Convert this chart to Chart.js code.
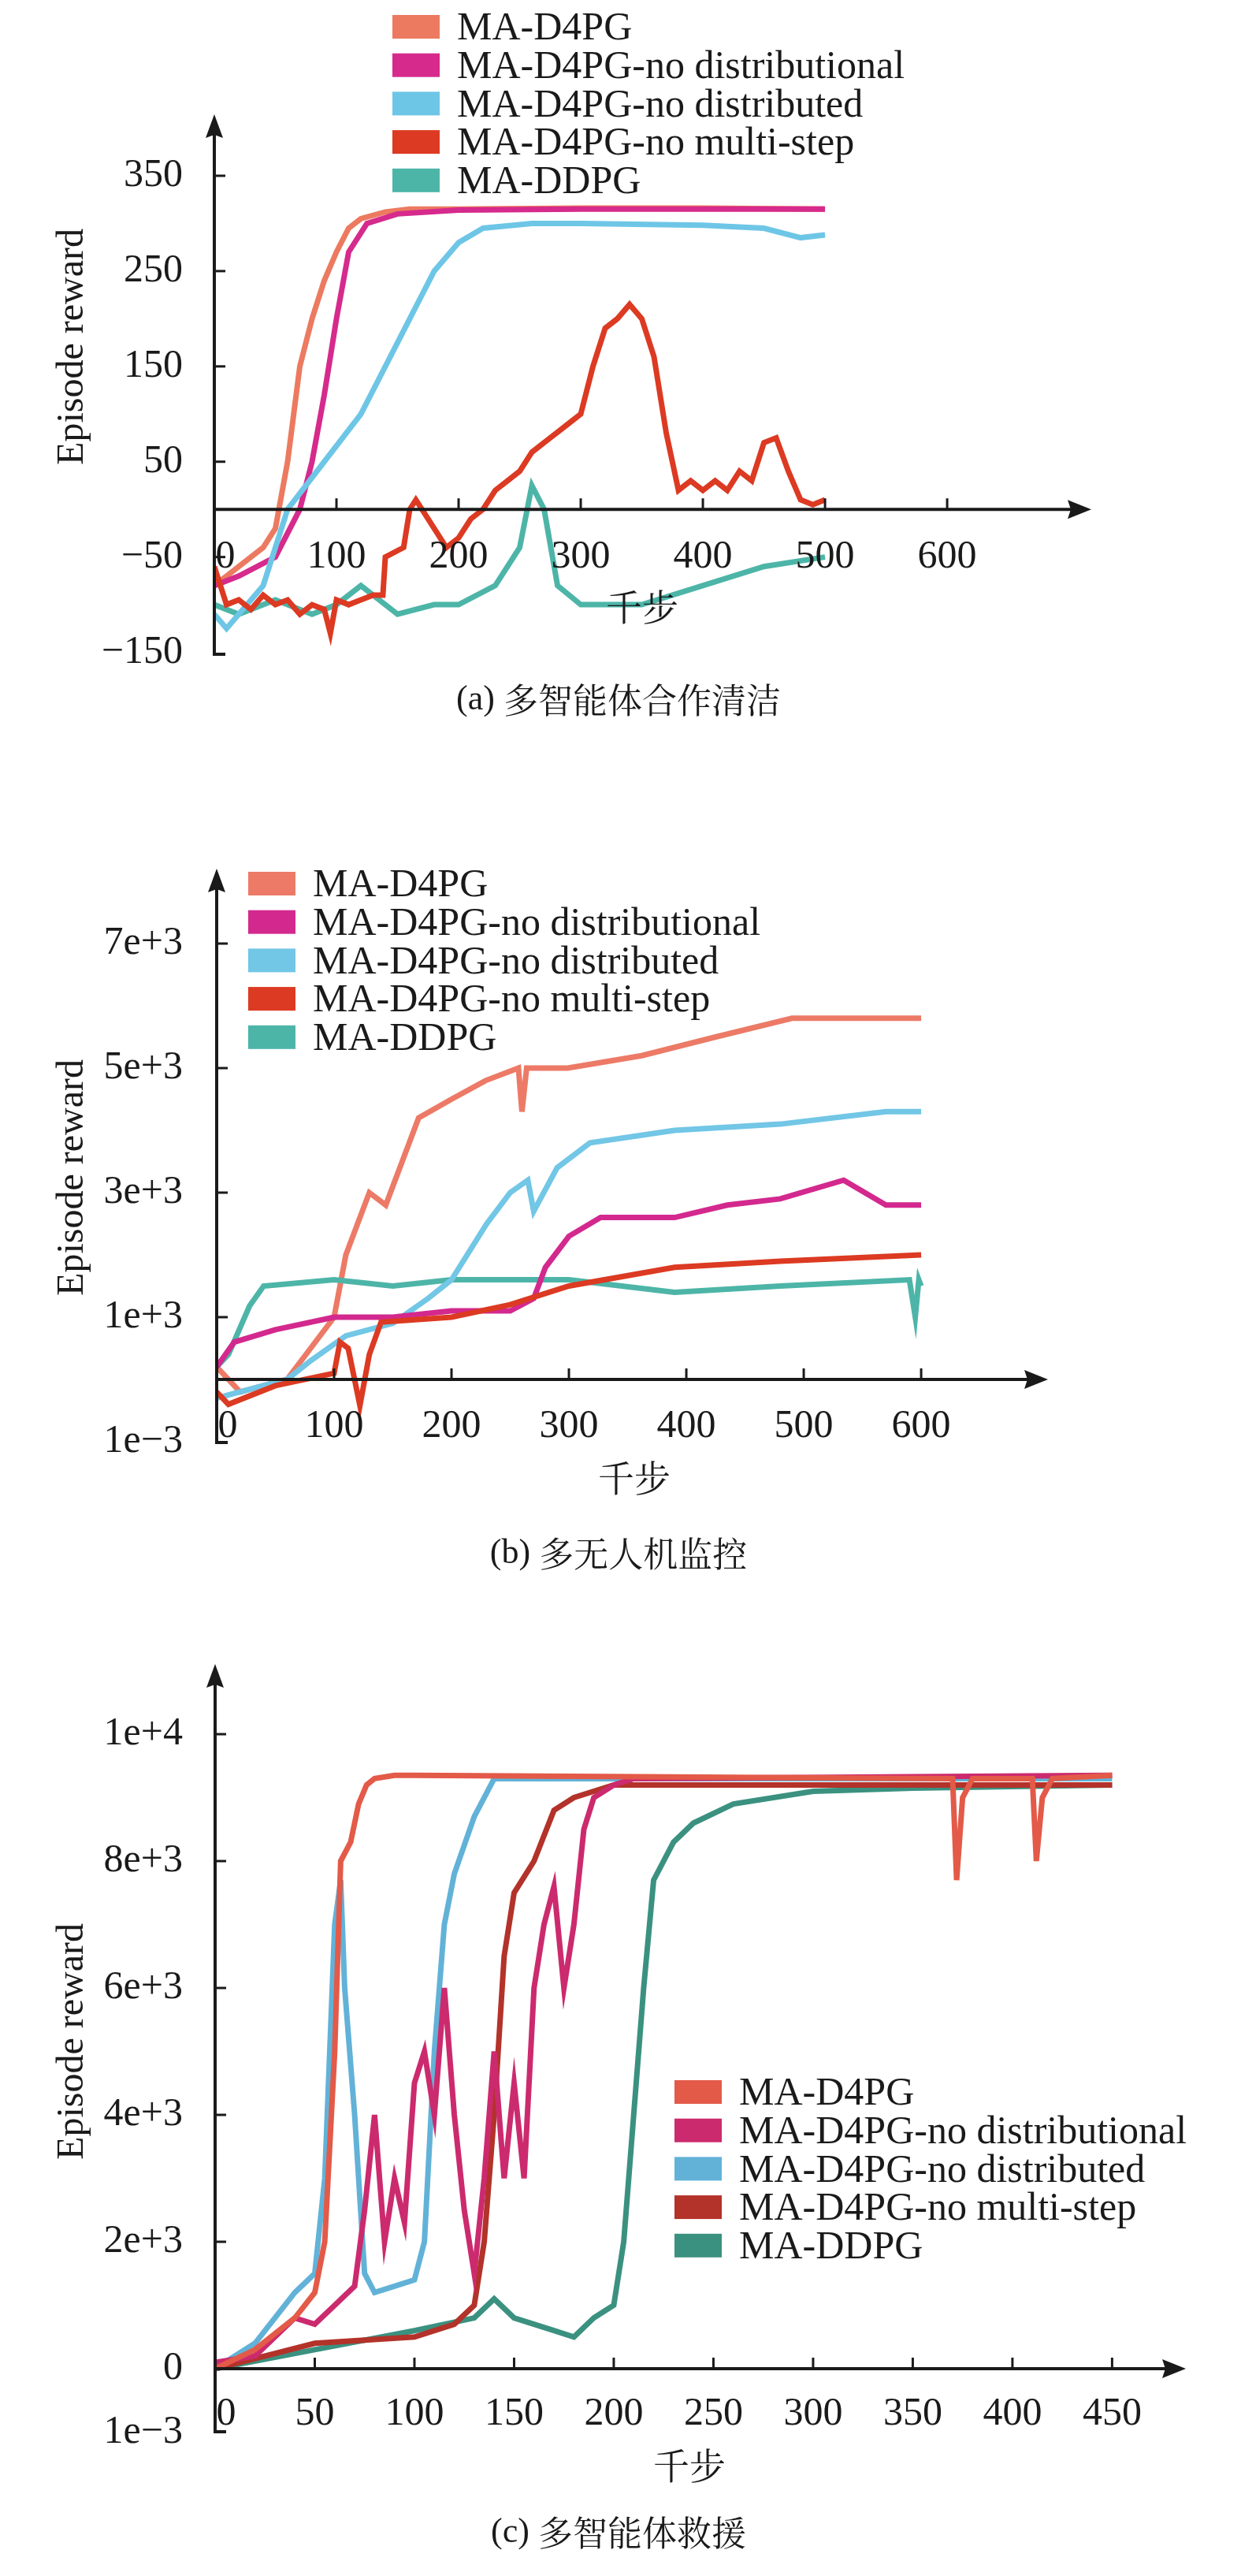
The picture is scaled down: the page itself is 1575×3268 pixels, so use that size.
<!DOCTYPE html>
<html>
<head>
<meta charset="utf-8">
<script src="https://cdn.jsdelivr.net/npm/chart.js@4/dist/chart.umd.min.js"></script>
<style>
  body { margin: 0; background: #fff; width: 1575px; height: 3268px; position: relative; overflow: hidden; }
  canvas { position: absolute; left: 0; }
</style>
</head>
<body>
<canvas id="chartA" width="1575" height="1000" style="top:0px"></canvas>
<canvas id="chartB" width="1575" height="1000" style="top:1000px"></canvas>
<canvas id="chartC" width="1575" height="1268" style="top:2000px"></canvas>
<script>
// series names and colours
const seriesNames = ['MA-D4PG', 'MA-D4PG-no distributional', 'MA-D4PG-no distributed', 'MA-D4PG-no multi-step', 'MA-DDPG'];
const colorsA = ['#ec7a60', '#d62a8c', '#6ec6e6', '#dc3a22', '#4db5a8'];
const colorsB = ['#ec7a66', '#d3298e', '#72c6e6', '#dc3a22', '#4db5a8'];
const colorsC = ['#e35a48', '#cc2a6e', '#62b2d8', '#b3322a', '#3b9180'];

// (a) cooperative cleaning
const aD4pgX = [0, 20, 40, 50, 60, 70, 80, 90, 100, 110, 120, 140, 160, 200, 300, 400, 500];
const aD4pgY = [-80, -60, -40, -20, 50, 150, 200, 240, 270, 295, 305, 312, 315, 315, 316, 316, 315];
const aNoDistribX = [0, 20, 50, 70, 80, 90, 100, 110, 125, 150, 200, 300, 400, 500];
const aNoDistribY = [-80, -70, -50, 0, 50, 120, 200, 270, 300, 310, 314, 315, 315, 315];
const aNoDistrX = [0, 10, 20, 40, 60, 90, 120, 140, 160, 180, 200, 220, 260, 300, 400, 450, 480, 500];
const aNoDistrY = [-110, -125, -110, -80, 0, 50, 100, 150, 200, 250, 280, 295, 300, 300, 298, 295, 285, 288];
const aNoMultiX = [0, 10, 20, 30, 40, 50, 60, 70, 80, 90, 95, 100, 110, 120, 130, 138, 140, 155, 160, 165, 170, 180, 190, 200, 210, 220, 230, 240, 250, 260, 270, 280, 290, 300, 310, 320, 330, 340, 350, 360, 370, 380, 390, 400, 410, 420, 430, 440, 450, 460, 470, 480, 490, 500];
const aNoMultiY = [-60, -100, -95, -105, -90, -100, -95, -110, -100, -105, -130, -95, -100, -95, -90, -90, -50, -40, 0, 10, 0, -20, -40, -30, -10, 0, 20, 30, 40, 60, 70, 80, 90, 100, 150, 190, 200, 215, 200, 160, 80, 20, 30, 20, 30, 20, 40, 30, 70, 75, 40, 10, 5, 10];
const aDdpgX = [0, 20, 50, 80, 100, 120, 130, 150, 180, 200, 230, 250, 260, 270, 281, 300, 350, 400, 450, 500];
const aDdpgY = [-100, -110, -95, -110, -100, -80, -90, -110, -100, -100, -80, -40, 25, 0, -80, -100, -100, -80, -60, -50];

// (b) multi-UAV surveillance
const bD4pgX = [0, 20, 60, 80, 100, 110, 130, 144, 158, 172, 200, 229, 257, 260, 264, 299, 362, 425, 490, 600];
const bD4pgY = [200, -200, 0, 500, 1000, 2000, 3000, 2800, 3500, 4200, 4500, 4800, 5000, 4300, 5000, 5000, 5200, 5500, 5800, 5800];
const bNoDistribX = [0, 15, 50, 100, 150, 200, 250, 270, 280, 300, 327, 390, 435, 480, 534, 570, 600];
const bNoDistribY = [200, 600, 800, 1000, 1000, 1100, 1100, 1300, 1800, 2300, 2600, 2600, 2800, 2900, 3200, 2800, 2800];
const bNoDistrX = [0, 60, 80, 110, 150, 180, 200, 230, 250, 265, 270, 290, 318, 390, 480, 570, 600];
const bNoDistrY = [-300, 0, 300, 700, 900, 1300, 1600, 2500, 3000, 3200, 2700, 3400, 3800, 4000, 4100, 4300, 4300];
const bNoMultiX = [0, 10, 50, 100, 105, 112, 122, 130, 140, 200, 250, 300, 390, 480, 600];
const bNoMultiY = [-200, -400, -100, 100, 600, 500, -420, 400, 920, 1000, 1200, 1500, 1800, 1900, 2000];
const bDdpgX = [0, 10, 28, 40, 100, 150, 200, 300, 390, 480, 590, 595, 598, 600];
const bDdpgY = [200, 400, 1180, 1500, 1600, 1500, 1600, 1600, 1400, 1500, 1600, 1000, 1600, 1500];

// (c) multi-agent rescue
const cD4pgX = [0, 20, 40, 50, 55, 60, 63, 68, 72, 76, 80, 90, 100, 370, 372, 375, 380, 410, 412, 415, 420, 450];
const cD4pgY = [0, 300, 800, 1200, 2000, 5000, 8000, 8300, 8900, 9200, 9300, 9350, 9350, 9300, 7700, 9000, 9300, 9300, 8000, 9000, 9300, 9350];
const cNoDistribX = [0, 20, 40, 50, 60, 70, 75, 80, 85, 90, 95, 100, 105, 110, 115, 120, 125, 130, 135, 140, 145, 150, 155, 160, 165, 170, 175, 180, 185, 190, 200, 210, 450];
const cNoDistribY = [100, 200, 800, 700, 1000, 1300, 2500, 4000, 2000, 3000, 2300, 4500, 5000, 4000, 6000, 4000, 2500, 1500, 3000, 5000, 3000, 4500, 3000, 6000, 7000, 7600, 6000, 7000, 8500, 9000, 9200, 9300, 9350];
const cNoDistrX = [0, 20, 40, 50, 55, 60, 63, 65, 70, 75, 80, 90, 100, 105, 110, 115, 120, 130, 140, 450];
const cNoDistrY = [0, 400, 1200, 1500, 3000, 7000, 7700, 6000, 4000, 1500, 1200, 1300, 1400, 2000, 5000, 7000, 7800, 8700, 9300, 9300];
const cNoMultiX = [0, 50, 100, 120, 130, 135, 140, 145, 150, 160, 170, 180, 200, 450];
const cNoMultiY = [0, 400, 500, 700, 1000, 2000, 4000, 6500, 7500, 8000, 8800, 9000, 9200, 9200];
const cDdpgX = [0, 50, 100, 130, 140, 150, 170, 180, 190, 200, 205, 210, 215, 220, 230, 240, 260, 300, 350, 450];
const cDdpgY = [0, 300, 600, 800, 1100, 800, 600, 500, 800, 1000, 2000, 4000, 6000, 7700, 8300, 8600, 8900, 9100, 9150, 9200];

// tick labels
const aYTickVals = [350, 250, 150, 50, -50, -150];
const aYTickLabels = ['350', '250', '150', '50', '\u221250', '\u2212150'];
const aXTicks = [0, 100, 200, 300, 400, 500, 600];
const bYTickVals = [7000, 5000, 3000, 1000, -1000];
const bYTickLabels = ['7e+3', '5e+3', '3e+3', '1e+3', '1e\u22123'];
const bXTicks = [0, 100, 200, 300, 400, 500, 600];
const cYTickVals = [10000, 8000, 6000, 4000, 2000, 0, -1000];
const cYTickLabels = ['1e+4', '8e+3', '6e+3', '4e+3', '2e+3', '0', '1e\u22123'];
const cXTicks = [0, 50, 100, 150, 200, 250, 300, 350, 400, 450];

const FONT = '"Liberation Serif", "Times New Roman", serif';
const CJK = '"Noto Serif CJK SC", "Noto Sans CJK SC", serif';

function pts(xs, ys) {
    return xs.map((x, i) => ({ x: x, y: ys[i] }));
}

// axes with arrows, ticks, titles, legend, caption
const axesPlugin = {
    id: 'axesPlugin',
    afterDraw(chart) {
        const o = chart.options.plugins.axesPlugin;
        const ctx = chart.ctx;
        const xs = chart.scales.x, ys = chart.scales.y;
        const area = chart.chartArea;
        const x0 = xs.getPixelForValue(0);
        const y0 = ys.getPixelForValue(0);
        ctx.save();
        ctx.strokeStyle = '#1a1a1a';
        ctx.fillStyle = '#1a1a1a';
        ctx.lineWidth = 4;
        // y axis
        ctx.beginPath();
        ctx.moveTo(x0 + 14, area.bottom);
        ctx.lineTo(x0, area.bottom);
        ctx.lineTo(x0, area.top + 10);
        ctx.stroke();
        ctx.beginPath();
        ctx.moveTo(x0, area.top);
        ctx.lineTo(x0 - 11, area.top + 30);
        ctx.lineTo(x0, area.top + 26);
        ctx.lineTo(x0 + 11, area.top + 30);
        ctx.closePath();
        ctx.fill();
        // x axis
        ctx.beginPath();
        ctx.moveTo(x0, y0);
        ctx.lineTo(area.right - 10, y0);
        ctx.stroke();
        ctx.beginPath();
        ctx.moveTo(area.right, y0);
        ctx.lineTo(area.right - 30, y0 - 12);
        ctx.lineTo(area.right - 26, y0);
        ctx.lineTo(area.right - 30, y0 + 12);
        ctx.closePath();
        ctx.fill();
        ctx.lineWidth = 3;
        // y ticks
        ctx.font = '50px ' + FONT;
        ctx.textAlign = 'right';
        ctx.textBaseline = 'middle';
        o.yTickVals.forEach((v, i) => {
            const py = ys.getPixelForValue(v);
            ctx.fillText(o.yTickLabels[i], 232, py);
            if (i < o.yTickVals.length - 1) {
                ctx.beginPath();
                ctx.moveTo(x0, py);
                ctx.lineTo(x0 + 14, py);
                ctx.stroke();
            }
        });
        // x ticks
        ctx.textAlign = 'center';
        o.xTicks.forEach(v => {
            const px = xs.getPixelForValue(v);
            ctx.fillText(String(v), v === 0 ? px + 14 : px, y0 + o.xLabelOffset);
            if (v > 0) {
                ctx.beginPath();
                ctx.moveTo(px, y0);
                ctx.lineTo(px, y0 - 14);
                ctx.stroke();
            }
        });
        // axis titles
        ctx.font = '46px ' + CJK;
        ctx.fillText('千步', o.xTitle[0], o.xTitle[1]);
        ctx.save();
        ctx.translate(92, o.yTitleY);
        ctx.rotate(-Math.PI / 2);
        ctx.font = '48px ' + FONT;
        ctx.fillText('Episode reward', 0, 0);
        ctx.restore();
        // caption
        ctx.font = '44px ' + FONT;
        const capW = ctx.measureText(o.caption[0]).width;
        ctx.font = '44px ' + CJK;
        const capW2 = ctx.measureText(o.caption[1]).width;
        const capX = 785 - (capW + capW2) / 2;
        ctx.textAlign = 'left';
        ctx.font = '44px ' + FONT;
        ctx.fillText(o.caption[0], capX, o.captionY);
        ctx.font = '44px ' + CJK;
        ctx.fillText(o.caption[1], capX + capW, o.captionY);
        // legend
        ctx.font = '50px ' + FONT;
        chart.data.datasets.forEach((ds, i) => {
            const y = o.legend[1] + i * 48.7;
            ctx.fillStyle = ds.borderColor;
            ctx.fillRect(o.legend[0], y - 15, 60, 30);
            ctx.fillStyle = '#1a1a1a';
            ctx.fillText(ds.label, o.legend[0] + 82, y + 3);
        });
        ctx.restore();
    }
};

function makeChart(id, colors, series, opts) {
    new Chart(document.getElementById(id), {
        type: 'line',
        data: {
            datasets: series.map((s, i) => ({
                label: seriesNames[i],
                data: pts(s[0], s[1]),
                borderColor: colors[i],
                borderWidth: 7,
                pointRadius: 0,
                tension: 0,
                fill: false,
                order: opts.order[i]
            }))
        },
        options: {
            responsive: false,
            animation: false,
            devicePixelRatio: 1,
            layout: { padding: opts.padding },
            scales: {
                x: { type: 'linear', display: false, min: 0, max: opts.xMax },
                y: { type: 'linear', display: false, min: opts.yMin, max: opts.yMax }
            },
            plugins: {
                legend: { display: false },
                tooltip: { enabled: false },
                axesPlugin: opts.axes
            }
        },
        plugins: [axesPlugin]
    });
}

makeChart('chartA', colorsA, [[aD4pgX, aD4pgY], [aNoDistribX, aNoDistribY], [aNoDistrX, aNoDistrY], [aNoMultiX, aNoMultiY], [aDdpgX, aDdpgY]], {
    padding: { left: 272, right: 190, top: 145, bottom: 170 },
    xMax: 718, yMin: -152, yMax: 414.5,
    order: [3, 2, 1, 0, 4],
    axes: {
        yTickVals: aYTickVals, yTickLabels: aYTickLabels, xTicks: aXTicks,
        xLabelOffset: 61, xTitle: [815, 770], yTitleY: 440, caption: ['(a) ', '多智能体合作清洁'], captionY: 888,
        legend: [498, 34]
    }
});

makeChart('chartB', colorsB, [[bD4pgX, bD4pgY], [bNoDistribX, bNoDistribY], [bNoDistrX, bNoDistrY], [bNoMultiX, bNoMultiY], [bDdpgX, bDdpgY]], {
    padding: { left: 275, right: 245, top: 102, bottom: 170 },
    xMax: 708, yMin: -1013, yMax: 8203,
    order: [4, 1, 2, 0, 3],
    axes: {
        yTickVals: bYTickVals, yTickLabels: bYTickLabels, xTicks: bXTicks,
        xLabelOffset: 60, xTitle: [805, 875], yTitleY: 494, caption: ['(b) ', '多无人机监控'], captionY: 971,
        legend: [315, 121]
    }
});

makeChart('chartC', colorsC, [[cD4pgX, cD4pgY], [cNoDistribX, cNoDistribY], [cNoDistrX, cNoDistrY], [cNoMultiX, cNoMultiY], [cDdpgX, cDdpgY]], {
    padding: { left: 273, right: 70, top: 111, bottom: 183 },
    xMax: 487, yMin: -994, yMax: 11106,
    order: [0, 1, 2, 3, 4],
    axes: {
        yTickVals: cYTickVals, yTickLabels: cYTickLabels, xTicks: cXTicks,
        xLabelOffset: 58, xTitle: [875, 1128], yTitleY: 590, caption: ['(c) ', '多智能体救援'], captionY: 1213,
        legend: [856, 654]
    }
});
</script>
</body>
</html>
